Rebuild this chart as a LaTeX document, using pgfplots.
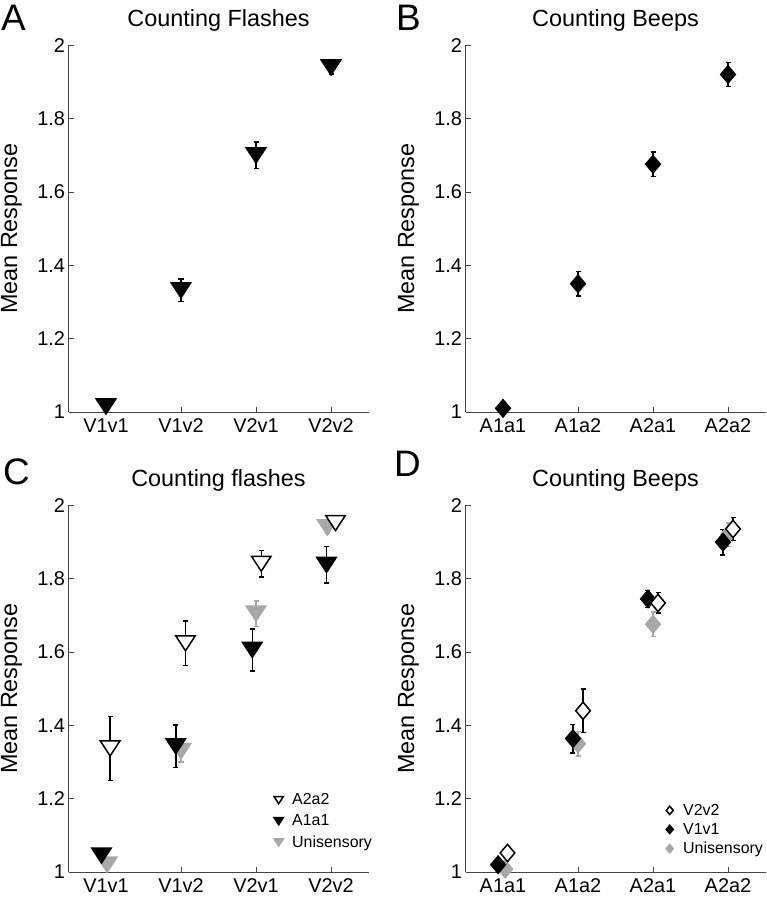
\documentclass[border=0pt]{standalone}
\usepackage{pgfplots}
\pgfplotsset{compat=1.18}
\usepackage{fontspec}
\setmainfont{Liberation Sans}

\definecolor{uni}{RGB}{168,168,168}
\definecolor{axgray}{RGB}{70,70,70}

% MATLAB-like down triangle and diamond
\pgfdeclareplotmark{dtri}{%
  \pgfpathmoveto{\pgfqpoint{-1.3\pgfplotmarksize}{\pgfplotmarksize}}%
  \pgfpathlineto{\pgfqpoint{1.3\pgfplotmarksize}{\pgfplotmarksize}}%
  \pgfpathlineto{\pgfqpoint{0pt}{-\pgfplotmarksize}}%
  \pgfpathclose\pgfusepathqfillstroke}
\pgfdeclareplotmark{dia}{%
  \pgfpathmoveto{\pgfqpoint{0pt}{1.15\pgfplotmarksize}}%
  \pgfpathlineto{\pgfqpoint{0.97\pgfplotmarksize}{0pt}}%
  \pgfpathlineto{\pgfqpoint{0pt}{-1.15\pgfplotmarksize}}%
  \pgfpathlineto{\pgfqpoint{-0.97\pgfplotmarksize}{0pt}}%
  \pgfpathclose\pgfusepathqfillstroke}

\pgfplotsset{
  panel/.style={
    scale only axis, width=300bp, height=366.5bp,
    xmin=0.5, xmax=4.5, ymin=1, ymax=2,
    xtick={1,2,3,4}, ytick={1,1.2,1.4,1.6,1.8,2},
    axis x line*=bottom, axis y line*=left,
    axis line style={-, axgray, line width=0.8bp},
    tick style={axgray, line width=0.8bp}, major tick length=5bp,
    tick align=inside,
    ticklabel style={font=\fontsize{20}{24}\selectfont},
    xticklabel style={yshift=-3bp},
    /pgf/number format/assume math mode=true,
    ylabel={Mean Response},
    every axis y label/.style={at={(axis description cs:-0.19,0.5)}, rotate=90,
      anchor=center, font=\fontsize{23.5}{28}\selectfont},
    every axis title/.style={at={(axis description cs:0.5,1)}, anchor=base,
      yshift=19bp, font=\fontsize{23.5}{28}\selectfont},
    clip=false,
    error bars/y dir=both, error bars/y explicit,
    error bars/error mark options={rotate=90, mark size=2.5bp, line width=1.5bp},
    error bars/error bar style={line width=1.5bp},
    legend style={draw=none, fill=none, anchor=north west,
      font=\fontsize{16}{19}\selectfont, row sep=3.5bp, inner sep=0pt,
      nodes={inner sep=1.5bp}},
    legend cell align=left, reverse legend,
    legend image code/.code={%
      \draw[##1, mark size=3.6bp, line width=1bp] plot coordinates {(6bp,0bp)};
      \path[draw=none, fill=none] (0bp,0bp) (18bp,0bp);},
  },
  blk/.style={black, only marks, mark size=7.5bp, mark options={solid, fill=black, line width=1.5bp}},
  wht/.style={black, only marks, mark size=7.5bp, mark options={solid, fill=white, line width=1.5bp}},
  gry/.style={uni, only marks, mark size=7.5bp, mark options={solid, fill=uni, draw=uni, line width=1.5bp}},
}

\begin{document}
\begin{tikzpicture}
\useasboundingbox (0bp,0bp) rectangle (767bp,899bp);

% A
\begin{axis}[panel, at={(68.5bp,487bp)}, anchor=south west,
  title={Counting Flashes}, xticklabels={V1v1,V1v2,V2v1,V2v2}]
\addplot[blk, mark=dtri] coordinates {
  (1,1.015) +- (0,0.005)
  (2,1.332) +- (0,0.031)
  (3,1.700) +- (0,0.036)
  (4,1.940) +- (0,0.018)
};
\end{axis}

% B
\begin{axis}[panel, at={(465.5bp,487bp)}, anchor=south west,
  title={Counting Beeps}, xticklabels={A1a1,A1a2,A2a1,A2a2}]
\addplot[blk, mark=dia] coordinates {
  (1,1.010) +- (0,0.010)
  (2,1.350) +- (0,0.033)
  (3,1.676) +- (0,0.034)
  (4,1.921) +- (0,0.033)
};
\end{axis}

% C
\begin{axis}[panel, at={(68.5bp,27bp)}, anchor=south west,
  title={Counting flashes}, xticklabels={V1v1,V1v2,V2v1,V2v2},
  legend style={at={(rel axis cs:0.68,0.218)}, row sep=5.5bp}]
\addplot[gry, mark=dtri] coordinates {
  (1.015,1.020) +- (0,0.005)
  (2.000,1.330) +- (0,0.030)
  (3.000,1.705) +- (0,0.035)
  (3.950,1.940) +- (0,0.015)
};
\addlegendentry{Unisensory}
\addplot[blk, mark=dtri] coordinates {
  (0.940,1.045) +- (0,0.010)
  (1.930,1.343) +- (0,0.058)
  (2.950,1.606) +- (0,0.057)
  (3.940,1.838) +- (0,0.050)
};
\addlegendentry{A1a1}
\addplot[wht, mark=dtri] coordinates {
  (1.055,1.337) +- (0,0.087)
  (2.060,1.624) +- (0,0.061)
  (3.070,1.841) +- (0,0.036)
  (4.060,1.952) +- (0,0.010)
};
\addlegendentry{A2a2}
\end{axis}

% D
\begin{axis}[panel, at={(465.5bp,27bp)}, anchor=south west,
  title={Counting Beeps}, xticklabels={A1a1,A1a2,A2a1,A2a2},
  legend style={at={(rel axis cs:0.66,0.19)}}]
\addplot[gry, mark=dia] coordinates {
  (1.030,1.008) +- (0,0.010)
  (2.000,1.350) +- (0,0.033)
  (3.000,1.676) +- (0,0.034)
  (4.000,1.921) +- (0,0.033)
};
\addlegendentry{Unisensory}
\addplot[blk, mark=dia] coordinates {
  (0.935,1.020) +- (0,0.010)
  (1.933,1.364) +- (0,0.039)
  (2.933,1.745) +- (0,0.023)
  (3.933,1.900) +- (0,0.035)
};
\addlegendentry{V1v1}
\addplot[wht, mark=dia] coordinates {
  (1.060,1.052) +- (0,0.010)
  (2.067,1.440) +- (0,0.059)
  (3.067,1.734) +- (0,0.028)
  (4.067,1.936) +- (0,0.031)
};
\addlegendentry{V2v2}
\end{axis}

\node[anchor=base west, inner sep=0pt, font=\fontsize{37}{40}\selectfont] at (1bp,868bp) {A};
\node[anchor=base west, inner sep=0pt, font=\fontsize{37}{40}\selectfont] at (396bp,868bp) {B};
\node[anchor=base west, inner sep=0pt, font=\fontsize{37}{40}\selectfont] at (3bp,414bp) {C};
\node[anchor=base west, inner sep=0pt, font=\fontsize{37}{40}\selectfont] at (394bp,422bp) {D};
\end{tikzpicture}
\end{document}
